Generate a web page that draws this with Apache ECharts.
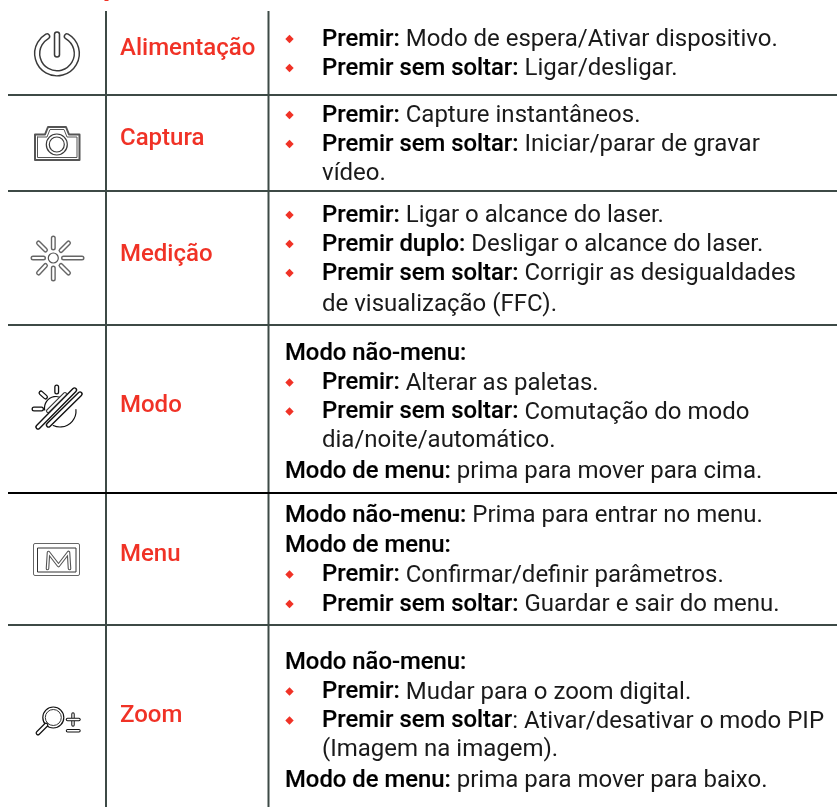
<!DOCTYPE html>
<html>
<head>
<meta charset="utf-8">
<style>
html, body { margin: 0; padding: 0; background: #fff; }
#main { width: 837px; height: 807px; }
</style>
<script src="https://cdn.jsdelivr.net/npm/echarts@6/dist/echarts.min.js"></script>
</head>
<body>
<div id="main"></div>
<script>
// row labels, red middle column
const rowLabels = ['Alimentação', 'Captura', 'Medição', 'Modo', 'Menu', 'Zoom'];

// text per row: "* " is a bullet line, "> " continues a bullet, nothing is a plain line
const textAlimentacao = [
    '* {b|Premir:} Modo de espera/Ativar dispositivo.',
    '* {b|Premir sem soltar:} Ligar/desligar.'
];
const textCaptura = [
    '* {b|Premir:} Capture instantâneos.',
    '* {b|Premir sem soltar:} Iniciar/parar de gravar',
    '> vídeo.'
];
const textMedicao = [
    '* {b|Premir:} Ligar o alcance do laser.',
    '* {b|Premir duplo:} Desligar o alcance do laser.',
    '* {b|Premir sem soltar:} Corrigir as desigualdades',
    '> de visualização (FFC).'
];
const textModo = [
    '{b|Modo não-menu:}',
    '* {b|Premir:} Alterar as paletas.',
    '* {b|Premir sem soltar:} Comutação do modo',
    '> dia/noite/automático.',
    '{b|Modo de menu:} prima para mover para cima.'
];
const textMenu = [
    '{b|Modo não-menu:} Prima para entrar no menu.',
    '{b|Modo de menu:}',
    '* {b|Premir:} Confirmar/definir parâmetros.',
    '* {b|Premir sem soltar:} Guardar e sair do menu.'
];
const textZoom = [
    '{b|Modo não-menu:}',
    '* {b|Premir:} Mudar para o zoom digital.',
    '* {b|Premir sem soltar}: Ativar/desativar o modo PIP',
    '> (Imagem na imagem).',
    '{b|Modo de menu:} prima para mover para baixo.'
];
const rowTexts = [textAlimentacao, textCaptura, textMedicao, textModo, textMenu, textZoom];

// layout
const lineColor = '#3d4a46';
const red = '#f03226';
const fontName = 'Roboto, "Liberation Sans", sans-serif';
const colX = [106, 268.5];
const rowY = [95, 191, 325, 493, 625];
const labelY = [49, 139, 254.5, 406, 555, 716];
const lineY = [
    [39, 68],
    [115, 144, 173],
    [215, 244, 273, 303.5],
    [353.5, 382.5, 411.5, 440, 471],
    [515, 545, 574.5, 604],
    [662, 691.5, 720.5, 749, 780]
];

let elements = [];

function rule(x1, y1, x2, y2, color) {
    elements.push({
        type: 'line',
        shape: { x1: x1, y1: y1, x2: x2, y2: y2 },
        style: { stroke: color || lineColor, lineWidth: 2 }
    });
}

// icons in the source have a double outline: dark stroke with a white core
function stroked(type, shape, width, core, color) {
    elements.push({
        type: type, shape: shape,
        style: { fill: 'none', stroke: color || '#3a3a3a', lineWidth: width, lineCap: 'round', lineJoin: 'round' }
    });
    if (core > 0) {
        elements.push({
            type: type, shape: shape,
            style: { fill: 'none', stroke: '#fff', lineWidth: core, lineCap: 'round', lineJoin: 'round' }
        });
    }
}

function poly(points, width, core, color) {
    stroked('polyline', { points: points }, width, core, color);
}

function arc(cx, cy, r, fromDeg, toDeg, width, core, color) {
    stroked('arc', { cx: cx, cy: cy, r: r, startAngle: fromDeg * Math.PI / 180, endAngle: toDeg * Math.PI / 180, clockwise: true }, width, core, color);
}

function circle(cx, cy, r, width, color) {
    elements.push({
        type: 'circle',
        shape: { cx: cx, cy: cy, r: r },
        style: { fill: '#fff', stroke: color || '#3a3a3a', lineWidth: width || 1.2 }
    });
}

function drawIcons() {
    // power
    arc(57, 53.5, 19.8, -60, 240, 6.5, 3.6);
    poly([[57, 34.5], [57, 54.5]], 6.5, 3.4);
    // camera
    let camOuter = [[35, 134.5], [45, 134.5], [48, 127], [66, 127], [69, 134.5], [79.5, 134.5], [79.5, 160], [35, 160], [35, 134.5]];
    let camInner = [[37.5, 137], [47, 137], [50, 129.5], [64, 129.5], [67, 137], [77, 137], [77, 157.5], [37.5, 157.5], [37.5, 137]];
    poly(camOuter, 2, 0, '#555');
    poly(camInner, 1, 0, '#555');
    circle(56.8, 144.5, 10.5, 1.2);
    circle(56.8, 144.5, 7.5, 1.2);
    // laser
    circle(53.3, 258, 5, 1.2, '#555');
    let rays = [
        [[33, 258], [43.5, 258]], [[63.5, 258], [82, 258]],
        [[53.3, 238], [53.3, 248]], [[53.3, 268], [53.3, 279]],
        [[38.5, 243], [45.5, 250]], [[61, 265.5], [68.5, 273]],
        [[68.5, 243], [61, 250.5]], [[45.5, 265.5], [38.5, 273]]
    ];
    rays.forEach(function (r) { poly(r, 5, 2.2, '#666'); });
    // modo
    arc(56, 408, 11.5, 170, 310, 1.2, 0, '#111');
    arc(60, 411, 16, -5, 115, 1.2, 0, '#111');
    poly([[56.7, 387], [56.7, 392]], 5, 2.4, '#111');
    poly([[41, 393], [45.5, 397]], 5, 2.4, '#111');
    poly([[34, 409], [41.5, 409]], 5, 2.4, '#111');
    poly([[38, 427], [74.5, 390]], 5.4, 2.6, '#111');
    poly([[48.5, 425], [80, 394]], 5.4, 2.6, '#111');
    poly([[48, 411], [65, 394]], 4, 1.8, '#333');
    // menu
    elements.push({ type: 'rect', shape: { x: 33.5, y: 543.5, width: 46, height: 32, r: 1.5 }, style: { fill: '#fff', stroke: '#666', lineWidth: 1 } });
    elements.push({ type: 'rect', shape: { x: 37.5, y: 548, width: 38.5, height: 24 }, style: { fill: '#fff', stroke: '#333', lineWidth: 1 } });
    poly([[47.5, 568.5], [48.5, 552.5], [58.5, 565.5], [68.5, 552.5], [69.5, 568.5]], 3.6, 1.4, '#555');
    // zoom
    circle(53.3, 717.5, 10.5, 1.2, '#111');
    circle(53.3, 717.5, 8, 1, '#333');
    poly([[46, 725], [38, 733]], 4.8, 2.4, '#111');
    poly([[73, 714], [73, 725]], 3.4, 1.4, '#111');
    poly([[67.5, 719.5], [79, 719.5]], 3.4, 1.4, '#111');
    poly([[67.5, 730.7], [79, 730.7]], 3.4, 1.4, '#111');
}

function drawRows() {
    rowLabels.forEach(function (label, i) {
        elements.push({
            type: 'text',
            style: { x: 120, y: labelY[i], text: label, fill: red, fontSize: 24, fontWeight: 500, fontFamily: fontName, verticalAlign: 'middle' }
        });
        rowTexts[i].forEach(function (line, j) {
            let x = 285;
            let text = line;
            if (line.indexOf('* ') === 0 || line.indexOf('> ') === 0) {
                x = 322;
                text = line.slice(2);
            }
            if (line.indexOf('* ') === 0) {
                let d = 4.2;
                let cy = lineY[i][j];
                elements.push({
                    type: 'polygon',
                    shape: { points: [[289.5, cy - d], [289.5 + d, cy], [289.5, cy + d], [289.5 - d, cy]] },
                    style: { fill: red }
                });
            }
            elements.push({
                type: 'text',
                style: {
                    x: x, y: lineY[i][j] + 1, text: text,
                    fill: '#1a1a1a', fontSize: 24, fontFamily: fontName,
                    verticalAlign: 'middle',
                    rich: { b: { fontSize: 23.85, fontWeight: 500, fontFamily: fontName, fill: '#000', stroke: '#000', lineWidth: 0.15 } }
                }
            });
        });
    });
}

colX.forEach(function (x) { rule(x, 11, x, 807); });
rowY.forEach(function (y, i) { rule(8, y, 837, y, i === 3 ? '#000' : lineColor); });
// clipped red mark left over at the top edge
elements.push({ type: 'rect', shape: { x: 104.5, y: 0, width: 4, height: 1 }, style: { fill: red } });
drawIcons();
drawRows();

let myChart = echarts.init(document.getElementById('main'));
myChart.setOption({
    animation: false,
    backgroundColor: '#fff',
    graphic: { elements: elements }
});
</script>
</body>
</html>
